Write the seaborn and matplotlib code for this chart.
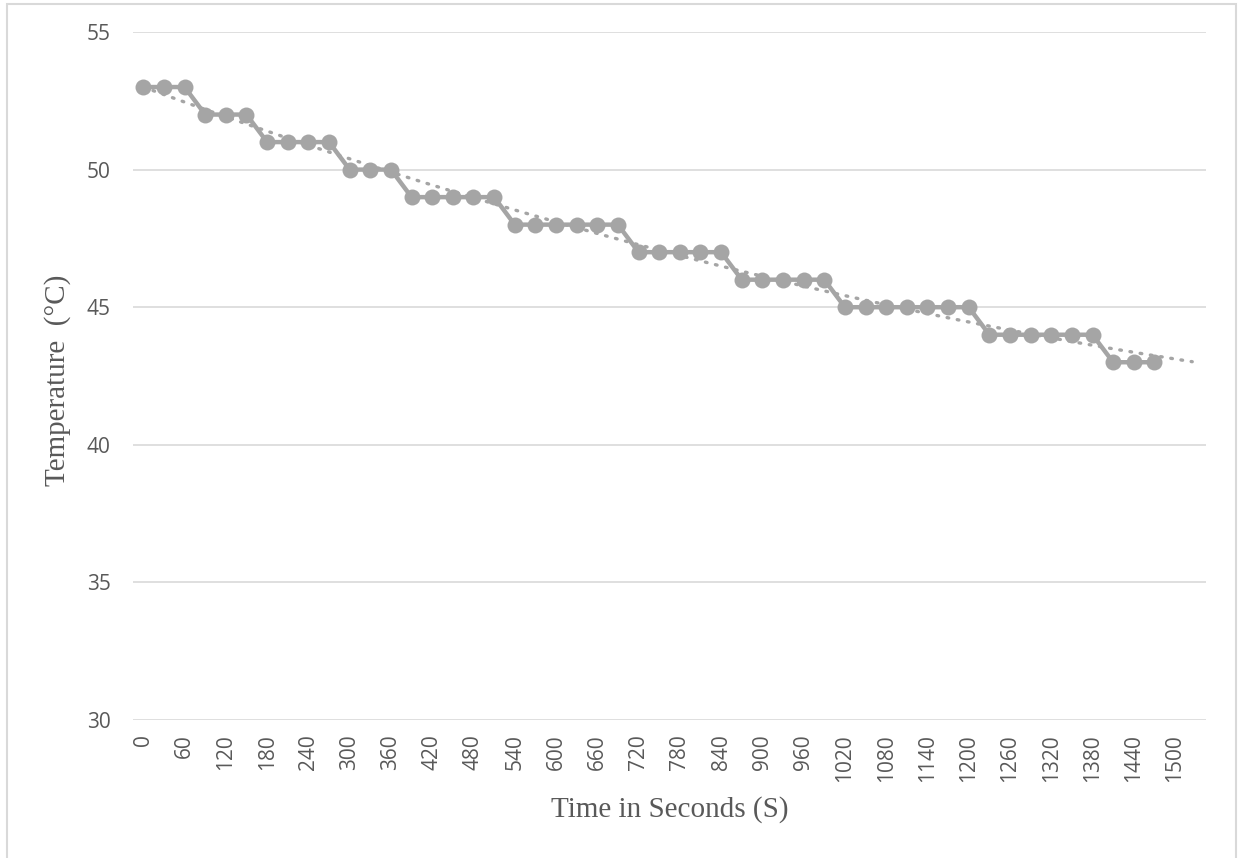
import numpy as np
import pandas as pd
import matplotlib
matplotlib.use("Agg")
import matplotlib.pyplot as plt
import seaborn as sns
from matplotlib.patches import Rectangle

# Data
time_s = [0, 30, 60, 90, 120, 150, 180, 210, 240, 270,
          300, 330, 360, 390, 420, 450, 480, 510, 540, 570,
          600, 630, 660, 690, 720, 750, 780, 810, 840, 870,
          900, 930, 960, 990, 1020, 1050, 1080, 1110, 1140, 1170,
          1200, 1230, 1260, 1290, 1320, 1350, 1380, 1410, 1440, 1470]
temperature = [53, 53, 53, 52, 52, 52, 51, 51, 51, 51,
               50, 50, 50, 49, 49, 49, 49, 49, 48, 48,
               48, 48, 48, 48, 47, 47, 47, 47, 47, 46,
               46, 46, 46, 46, 45, 45, 45, 45, 45, 45,
               45, 44, 44, 44, 44, 44, 44, 43, 43, 43]
x_ticks = list(range(0, 1501, 60))
y_ticks = [30, 35, 40, 45, 50, 55]

df = pd.DataFrame({"Time": time_s, "Temp": temperature})

sns.set_theme(style="white")
plt.rcParams['font.family'] = ['Open Sans', 'DejaVu Sans']

W, H = 1242, 858
fig = plt.figure(figsize=(W/100, H/100), dpi=100)
ax = fig.add_axes([133/W, 1 - 720/H, (1206-133)/W, (720-32)/H])

grey = "#A5A5A5"
for yv in y_ticks:
    ax.axhline(yv, color="#D9D9D9", lw=1.2, zorder=0)

sns.lineplot(data=df, x="Time", y="Temp", ax=ax, color=grey, lw=3.2,
             marker="o", markersize=11.5, markeredgewidth=0, zorder=3)

# polynomial trendline (fitted from data)
coef = np.polyfit(np.array(time_s, float), np.array(temperature, float), 2)
xt = np.linspace(0, 1525, 300)
ax.plot(xt, np.polyval(coef, xt), color=grey, lw=2.4, ls=(0, (0.5, 2.6)),
        dash_capstyle="round", zorder=4)

ax.set_xlim(-15, 1545)
ax.set_ylim(30, 55)
ax.set_xticks(x_ticks)
ax.set_xticklabels([str(v) for v in x_ticks], rotation=90, color="#595959", fontsize=15)
ax.set_yticks(y_ticks)
ax.set_yticklabels([str(v) for v in y_ticks], color="#595959", fontsize=15)
ax.tick_params(axis="x", length=0, pad=10)
ax.tick_params(axis="y", length=0, pad=16)
ax.set_xlabel("")
ax.set_ylabel("")
for s in ax.spines.values():
    s.set_visible(False)
ax.grid(False)

fig.text(670/W, 1 - 810/H, "Time in Seconds (S)", family="Liberation Serif",
         fontsize=21, color="#595959", ha="center", va="center")
fig.text(58/W, 1 - 380/H, "Temperature  (°C)", family="Liberation Serif",
         fontsize=21, color="#595959", ha="center", va="center", rotation=90)

# figure border
fig.patches.append(Rectangle((7/W, -0.01), (1236-7)/W, 1 - 4/H + 0.01,
                             transform=fig.transFigure, fill=False,
                             edgecolor="#D9D9D9", lw=1.5))

fig.savefig("out.png", dpi=100)
